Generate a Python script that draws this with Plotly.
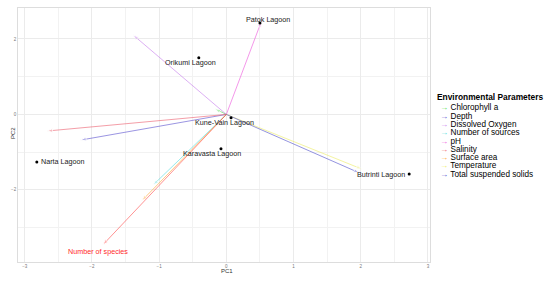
import plotly.graph_objects as go

# PCA site scores
sites = ["Patok Lagoon", "Orikumi Lagoon", "Kune-Vain Lagoon", "Karavasta Lagoon", "Narta Lagoon", "Butrinti Lagoon"]
site_pc1 = [0.50, -0.41, 0.07, -0.08, -2.82, 2.72]
site_pc2 = [2.42, 1.50, -0.09, -0.91, -1.26, -1.58]

# environmental parameter loadings (arrows)
params = ["Chlorophyll a", "Depth", "Dissolved Oxygen", "Number of sources", "pH",
          "Salinity", "Surface area", "Temperature", "Total suspended solids"]
param_pc1 = [-0.17, -2.17, -1.39, -1.09, 0.52, -2.67, -1.26, 2.02, 1.98]
param_pc2 = [0.15, -0.68, 2.11, -1.87, 2.46, -0.44, -2.29, -1.45, -1.55]

# response variable
species_label = "Number of species"
species_pc1 = -1.84
species_pc2 = -3.46

COLORS = {
    "Chlorophyll a": "#55DD55",
    "Depth": "#5A50D0",
    "Dissolved Oxygen": "#C77CEE",
    "Number of sources": "#55DDDD",
    "pH": "#EE55DD",
    "Salinity": "#EE5F6F",
    "Surface area": "#FFA733",
    "Temperature": "#EEEE66",
    "Total suspended solids": "#4F4FCC",
}
SPECIES_COLOR = "#FF2A2A"
FONT = "Liberation Sans, Arial, sans-serif"

# label offsets in pixels (xshift, yshift, xanchor)
LABEL_POS = {
    "Patok Lagoon": (8, 4, "center"),
    "Orikumi Lagoon": (-8, -5, "center"),
    "Kune-Vain Lagoon": (-7, -5, "center"),
    "Karavasta Lagoon": (-9, -5, "center"),
    "Narta Lagoon": (2, 0, "left"),
    "Butrinti Lagoon": (-2, 0, "right"),
}

# panel box in pixels
L, R, T, B = 18, 430, 8, 262
W, H = 550, 281


def paper_x(px):
    return (px - L) / (R - L)


def paper_y(py):
    return (B - py) / (B - T)


fig = go.Figure()

for name, x, y in zip(params, param_pc1, param_pc2):
    fig.add_trace(go.Scatter(
        x=[0, x], y=[0, y], mode="lines+markers", name=name,
        line=dict(color=COLORS[name], width=1),
        marker=dict(symbol="arrow", angleref="previous", size=[0, 6], color=COLORS[name]),
        opacity=0.6, showlegend=False, hoverinfo="name",
    ))

fig.add_trace(go.Scatter(
    x=[0, species_pc1], y=[0, species_pc2], mode="lines+markers", name=species_label,
    line=dict(color=SPECIES_COLOR, width=1),
    marker=dict(symbol="arrow", angleref="previous", size=[0, 6], color=SPECIES_COLOR),
    opacity=0.5, showlegend=False,
))

fig.add_trace(go.Scatter(
    x=site_pc1, y=site_pc2, mode="markers", text=sites,
    marker=dict(color="black", size=3), showlegend=False,
))

annotations = []
for name, x, y in zip(sites, site_pc1, site_pc2):
    dx, dy, anchor = LABEL_POS[name]
    annotations.append(dict(
        x=x, y=y, xref="x", yref="y", text=name, showarrow=False,
        xshift=dx, yshift=dy, xanchor=anchor,
        font=dict(size=7.2, color="#222", family=FONT),
    ))

annotations.append(dict(
    x=species_pc1, y=species_pc2, xref="x", yref="y", text=species_label, showarrow=False,
    xshift=-5, yshift=-6, font=dict(size=7.2, color=SPECIES_COLOR, family=FONT),
))

# axis titles
annotations.append(dict(
    x=paper_x(227), y=paper_y(276), xref="paper", yref="paper", text="PC1", showarrow=False,
    font=dict(size=6, color="#333", family=FONT),
))
annotations.append(dict(
    x=paper_x(8), y=paper_y(133), xref="paper", yref="paper", text="PC2", showarrow=False,
    textangle=-90, font=dict(size=6, color="#333", family=FONT),
))

# hand-built legend (plotly's legend rows are too tall for this layout)
annotations.append(dict(
    x=paper_x(435), y=paper_y(97), xref="paper", yref="paper", xanchor="left", yanchor="middle",
    text="<b>Environmental Parameters</b>", showarrow=False,
    font=dict(size=8.4, color="black", family=FONT),
))
for i, name in enumerate(params):
    annotations.append(dict(
        x=paper_x(438), y=paper_y(108 + 8.25 * i), xref="paper", yref="paper",
        xanchor="left", yanchor="middle", showarrow=False,
        text=f"<span style='color:{COLORS[name]}'>→</span> {name}",
        font=dict(size=8.2, color="black", family=FONT),
    ))

axis_common = dict(
    showgrid=True, gridcolor="#EBEBEB", gridwidth=0.6, automargin=False,
    zeroline=False, showline=True, linecolor="#DDDDDD", linewidth=0.8, mirror=True,
    ticks="", tickfont=dict(size=4.5, color="#777", family=FONT),
)

fig.update_layout(
    width=W, height=H,
    margin=dict(l=L, r=W - R, t=T, b=H - B),
    paper_bgcolor="white", plot_bgcolor="white",
    annotations=annotations,
    xaxis=dict(range=[-3.10, 3.03], dtick=1,
               minor=dict(dtick=0.5, showgrid=True, gridcolor="#F2F2F2", gridwidth=0.5),
               **axis_common),
    yaxis=dict(range=[-3.91, 2.82], dtick=2,
               minor=dict(dtick=1, showgrid=True, gridcolor="#F2F2F2", gridwidth=0.5),
               **axis_common),
)

# drop the browser's default 8px body margin so the figure sits at the page corner
fig.write_html("out.html", config={"displayModeBar": False},
               post_script="document.body.style.margin='0';")
